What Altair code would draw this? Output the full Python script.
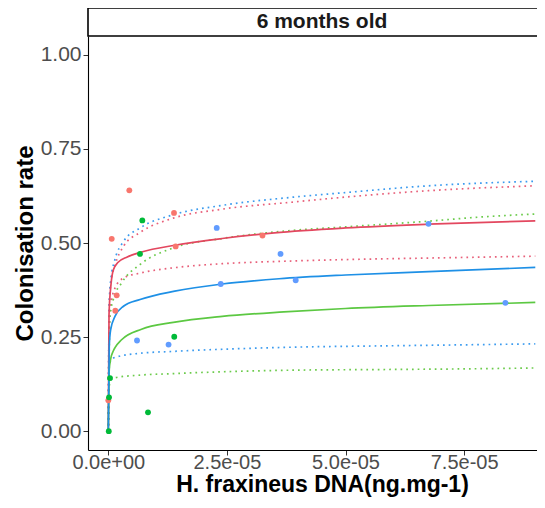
import altair as alt
import pandas as pd

# ---------------- data ----------------
panel_title = "6 months old"
x_title = "H. fraxineus DNA(ng.mg-1)"
y_title = "Colonisation rate"

x_tick_values = [0, 2.5e-5, 5e-5, 7.5e-5]
x_tick_labels = ["0.0e+00", "2.5e-05", "5.0e-05", "7.5e-05"]
y_tick_values = [0, 0.25, 0.5, 0.75, 1.0]

groups = ["red", "green", "blue"]

red_x = [4.43e-6, 0.72e-6, 1.385e-5, 1.42e-5, 3.25e-5, 1.77e-6, 1.48e-6, 0.0]
red_y = [0.640, 0.511, 0.580, 0.491, 0.520, 0.361, 0.320, 0.082]
green_x = [7.17e-6, 6.68e-6, 1.39e-5, 0.36e-6, 0.15e-6, 8.37e-6, 0.1e-6]
green_y = [0.560, 0.471, 0.251, 0.141, 0.090, 0.050, 0.0]
blue_x = [2.285e-5, 2.37e-5, 3.63e-5, 6.05e-6, 1.27e-5, 3.95e-5, 6.75e-5, 8.37e-5]
blue_y = [0.540, 0.391, 0.471, 0.241, 0.230, 0.401, 0.551, 0.341]

# fitted curves (solid)
red_fit_x = [0, 1.5e-7, 5.7e-7, 1.05e-6, 2e-6, 4e-6, 7e-6, 1.4e-5, 2.4e-5, 3.5e-5, 5e-5, 6.75e-5, 9e-5]
red_fit_y = [0, 0.31, 0.39, 0.428, 0.448, 0.463, 0.476, 0.494, 0.512, 0.527, 0.540, 0.550, 0.559]
green_fit_x = [0, 2e-7, 5e-7, 1.05e-6, 1.41e-6, 2.8e-6, 7e-6, 1.37e-5, 2.4e-5, 3.7e-5, 5e-5, 6.75e-5, 9e-5]
green_fit_y = [0, 0.164, 0.192, 0.213, 0.222, 0.243, 0.271, 0.289, 0.305, 0.317, 0.326, 0.334, 0.342]
blue_fit_x = [0, 2e-7, 5e-7, 1.4e-6, 3.2e-6, 6.7e-6, 1.4e-5, 2.4e-5, 3.6e-5, 5e-5, 6.75e-5, 9e-5]
blue_fit_y = [0, 0.226, 0.27, 0.305, 0.332, 0.350, 0.372, 0.391, 0.405, 0.415, 0.424, 0.435]

# confidence bounds (dotted)
band_x = [0, 2e-7, 5e-7, 1.4e-6, 3.2e-6, 6.7e-6, 1.37e-5, 2.4e-5, 3.83e-5, 5e-5, 6.75e-5, 9e-5]
red_upper_y = [0, 0.33, 0.39, 0.44, 0.491, 0.528, 0.566, 0.590, 0.608, 0.622, 0.639, 0.652]
blue_upper_y = [0, 0.34, 0.40, 0.456, 0.504, 0.540, 0.575, 0.600, 0.621, 0.634, 0.652, 0.664]
red_lower_y = [0, 0.27, 0.33, 0.38, 0.407, 0.420, 0.434, 0.445, 0.452, 0.456, 0.460, 0.465]
green_upper_x = [0, 3.6e-7, 1.05e-6, 2.8e-6, 6.7e-6, 1.37e-5, 2.4e-5, 3.83e-5, 5e-5, 6.75e-5, 7.84e-5, 9e-5]
green_upper_y = [0, 0.305, 0.35, 0.394, 0.443, 0.487, 0.512, 0.533, 0.543, 0.558, 0.569, 0.577]
lower_x = [0, 2e-7, 5e-7, 1.4e-6, 6.7e-6, 1.37e-5, 3.83e-5, 6e-5, 7.84e-5, 9e-5]
blue_lower_y = [0, 0.17, 0.187, 0.196, 0.207, 0.212, 0.223, 0.227, 0.230, 0.232]
green_lower_y = [0, 0.12, 0.135, 0.142, 0.149, 0.153, 0.162, 0.164, 0.166, 0.168]

# ---------------- build tables ----------------
pts = pd.DataFrame({
    "x": red_x + green_x + blue_x,
    "y": red_y + green_y + blue_y,
    "group": ["red"] * len(red_x) + ["green"] * len(green_x) + ["blue"] * len(blue_x),
})

solid_curves = [
    (red_fit_x, red_fit_y, "#E3475F"),
    (green_fit_x, green_fit_y, "#5CC842"),
    (blue_fit_x, blue_fit_y, "#1E90E6"),
]
dotted_curves = [
    (band_x, red_upper_y, "#E8607A"),
    (band_x, blue_upper_y, "#3B9BEF"),
    (band_x, red_lower_y, "#E8607A"),
    (green_upper_x, green_upper_y, "#6CCB4C"),
    (lower_x, blue_lower_y, "#3B9BEF"),
    (lower_x, green_lower_y, "#6CCB4C"),
]

W, H = 449, 414
FONT = "Liberation Sans"
CENTER = 234  # centre of the full (cropped) panel

label_expr = "[" + ",".join("'" + s + "'" for s in x_tick_labels) + "][round(datum.value / 2.5e-5)]"

xscale = alt.Scale(domain=[-4.28e-6, 9.036e-5], nice=False, zero=False)
yscale = alt.Scale(domain=[-0.05, 1.05], nice=False, zero=False)

xaxis = alt.Axis(values=x_tick_values, labelExpr=label_expr, title=x_title,
                 grid=False, domainColor="black", domainWidth=1.1,
                 tickColor="#333333", tickSize=5, labelFontSize=20,
                 labelColor="#4D4D4D", labelFont=FONT, labelPadding=-3,
                 titleFont=FONT, titleFontSize=23, titleFontWeight="bold",
                 titleColor="black", titleX=CENTER, titleY=41,
                 titleBaseline="alphabetic",
                 labelFlush=False, labelOverlap=False)
yaxis = alt.Axis(values=y_tick_values, format=".2f", title=y_title,
                 grid=False, domainColor="black", domainWidth=1.1,
                 tickColor="#333333", tickSize=5, labelFontSize=21,
                 labelColor="#4D4D4D", labelFont=FONT, labelPadding=2,
                 titleFont=FONT, titleFontSize=24, titleFontWeight="bold",
                 titleColor="black", titlePadding=3)

X = alt.X("x:Q", scale=xscale, axis=xaxis)
Y = alt.Y("y:Q", scale=yscale, axis=yaxis)

layers = []
for cx, cy, col in dotted_curves:
    d = pd.DataFrame({"x": cx, "y": cy})
    layers.append(alt.Chart(d).mark_line(interpolate="monotone", strokeWidth=1.7,
                                         strokeDash=[1.7, 4], clip=True)
                  .encode(x=X, y=Y, color=alt.value(col)))
for cx, cy, col in solid_curves:
    d = pd.DataFrame({"x": cx, "y": cy})
    layers.append(alt.Chart(d).mark_line(interpolate="monotone", strokeWidth=1.7, clip=True)
                  .encode(x=X, y=Y, color=alt.value(col)))

points = alt.Chart(pts).mark_circle(size=34, opacity=1).encode(
    x=X, y=Y,
    color=alt.Color("group:N", scale=alt.Scale(domain=groups,
                                               range=["#F8766D", "#00BA38", "#619CFF"]),
                    legend=None),
)
layers.append(points)

one = pd.DataFrame({"k": [0]})
strip = alt.Chart(one).mark_rect(fill="white", stroke="black", strokeWidth=1.6).encode(
    x=alt.value(0), x2=alt.value(W + 20), y=alt.value(-28), y2=alt.value(0))
strip_text = alt.Chart(one).mark_text(font=FONT, fontSize=21, fontWeight="bold",
                                      color="#1A1A1A", align="center", baseline="middle").encode(
    x=alt.value(CENTER), y=alt.value(-14), text=alt.value(panel_title))
layers += [strip, strip_text]

chart = alt.layer(*layers).properties(
    width=W, height=H,
    autosize=alt.AutoSizeParams(type="none"),
    padding={"left": 80, "top": 28, "right": 0, "bottom": 50},
).configure_view(strokeWidth=0)

chart.save("out.html", embed_options={"renderer": "svg", "actions": False})
